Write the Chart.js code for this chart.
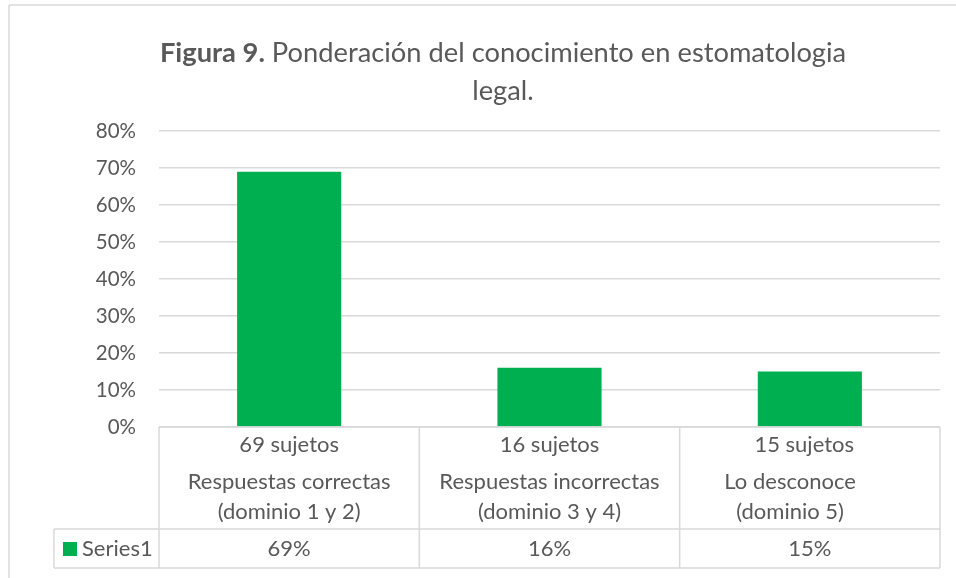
<!DOCTYPE html>
<html>
<head>
<meta charset="utf-8">
<script src="https://cdn.jsdelivr.net/npm/chart.js@4.4.1/dist/chart.umd.min.js"></script>
<style>
  html, body { margin: 0; padding: 0; background: #fff; }
  #wrap { position: relative; width: 956px; height: 578px; }
  #title {
    position: absolute; left: 150px; width: 706px; top: 33px;
    text-align: center; font-family: Lato, sans-serif; font-size: 27.3px;
    line-height: 38px; color: #595959;
  }
  #title b { font-weight: bold; }
</style>
</head>
<body>
<div id="wrap">
  <canvas id="chart" width="956" height="578"></canvas>
  <div id="title"><b>Figura 9.</b> Ponderación del conocimiento en estomatologia legal.</div>
</div>
<script>
// data
const subjects = ['69 sujetos', '16 sujetos', '15 sujetos  '];
const categories = [
  ['Respuestas correctas', '(dominio 1 y 2)'],
  ['Respuestas incorrectas', '(dominio 3 y 4)'],
  ['Lo desconoce       ', '(dominio 5)       ']
];
const seriesName = 'Series1';
const values = [0.69, 0.16, 0.15];
const valueLabels = ['69%', '16%', '15%'];

const GREEN = '#00B050';
const GRID = '#d9d9d9';
const TEXT = '#595959';
const FONT = 'Lato, sans-serif';

// frame + data table under the plot, drawn from the x scale
const tablePlugin = {
  id: 'dataTable',
  afterDraw(chart) {
    const ctx = chart.ctx;
    const area = chart.chartArea;
    const x = chart.scales.x;
    const top = area.bottom, mid = 529, bot = 568, legLeft = 54;
    ctx.save();
    ctx.strokeStyle = GRID;
    ctx.lineWidth = 1.5;
    ctx.beginPath();
    // outer chart frame
    ctx.moveTo(9, 5); ctx.lineTo(956, 5);
    ctx.moveTo(9, 5); ctx.lineTo(9, 578);
    // table grid
    ctx.moveTo(area.left, top); ctx.lineTo(area.right, top);
    ctx.moveTo(legLeft, mid); ctx.lineTo(area.right, mid);
    ctx.moveTo(legLeft, bot); ctx.lineTo(area.right, bot);
    ctx.moveTo(legLeft, mid); ctx.lineTo(legLeft, bot);
    const step = (area.right - area.left) / values.length;
    for (let i = 0; i <= values.length; i++) {
      const lx = area.left + i * step;
      ctx.moveTo(lx, top); ctx.lineTo(lx, bot);
    }
    ctx.stroke();

    ctx.fillStyle = TEXT;
    ctx.font = '22px ' + FONT;
    ctx.textAlign = 'center';
    ctx.textBaseline = 'middle';
    values.forEach((v, i) => {
      const cx = x.getPixelForValue(i);
      ctx.fillText(subjects[i], cx, 445);
      ctx.fillText(categories[i][0], cx, 482);
      ctx.fillText(categories[i][1], cx, 512);
      ctx.fillText(valueLabels[i], cx, 549);
    });
    // legend key
    ctx.fillStyle = GREEN;
    ctx.fillRect(63, 542, 14, 14);
    ctx.fillStyle = TEXT;
    ctx.textAlign = 'left';
    ctx.fillText(seriesName, 82, 549);
    ctx.restore();
  }
};

new Chart(document.getElementById('chart'), {
  type: 'bar',
  data: {
    labels: subjects,
    datasets: [{
      label: seriesName,
      data: values,
      backgroundColor: GREEN,
      barPercentage: 0.4,
      categoryPercentage: 1
    }]
  },
  options: {
    responsive: false,
    animation: false,
    layout: { padding: { top: 131, bottom: 151, right: 16, left: 0 } },
    plugins: { legend: { display: false }, tooltip: { enabled: false } },
    scales: {
      x: { display: false },
      y: {
        min: 0, max: 0.8,
        afterFit: s => { s.width = 159; },
        border: { display: false },
        grid: { color: GRID, lineWidth: 1.5, drawTicks: false },
        ticks: {
          stepSize: 0.1, padding: 23, color: TEXT,
          font: { family: FONT, size: 20.5 },
          callback: v => Math.round(v * 100) + '%'
        }
      }
    }
  },
  plugins: [tablePlugin]
});
</script>
</body>
</html>
